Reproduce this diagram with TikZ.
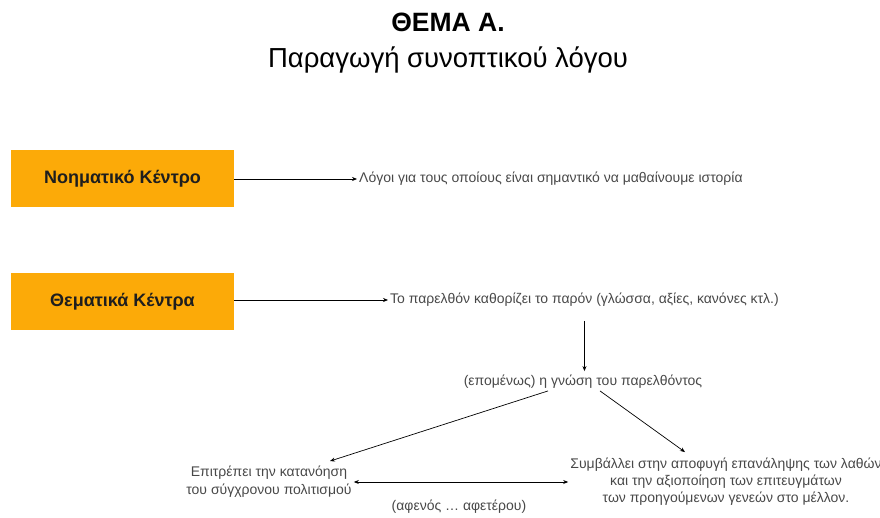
\documentclass[tikz,border=0pt]{standalone}
\usepackage{fontspec}
\setmainfont{Liberation Sans}
\usetikzlibrary{arrows.meta}
\definecolor{box_orange}{RGB}{252,170,8}
\definecolor{box_text}{RGB}{30,30,30}
\definecolor{txt_gray}{RGB}{72,72,72}
\tikzstyle{kb}=[rectangle,fill=box_orange,text=box_text,minimum width=223pt,minimum height=57pt,
  font=\fontsize{18}{21}\selectfont\bfseries]
\tikzstyle{gt}=[text=txt_gray,inner sep=2pt,align=center,
  font=\fontsize{14}{17}\selectfont]
\tikzstyle{ar}=[-{Stealth[length=5pt,width=4pt]},line width=0.7pt]
\tikzstyle{dar}=[{Stealth[length=5pt,width=4pt]}-{Stealth[length=5pt,width=4pt]},line width=0.7pt]

\begin{document}
\begin{tikzpicture}[x=1pt,y=-1pt]
    \useasboundingbox (0,0) rectangle (880,518);
    \node (title) at (448,22) {\fontsize{26.5}{30}\selectfont\bfseries ΘΕΜΑ Α.};
    \node (subtitle) at (448,60) {\fontsize{27.5}{32}\selectfont Παραγωγή συνοπτικού λόγου};
    \node [style=kb] (nk) at (122.5,178.5) {Νοηματικό Κέντρο};
    \node [style=gt,anchor=west] (why) at (357,179) {Λόγοι για τους οποίους είναι σημαντικό να μαθαίνουμε ιστορία};
    \node [style=kb] (tk) at (122.5,301.5) {Θεματικά Κέντρα};
    \node [style=gt,anchor=west] (past) at (388,300) {Το παρελθόν καθορίζει το παρόν (γλώσσα, αξίες, κανόνες κτλ.)};
    \node [style=gt] (know) at (583,382) {(επομένως) η γνώση του παρελθόντος};
    \node [style=gt,font=\fontsize{14}{18}\selectfont] (civ) at (269,482) {Επιτρέπει την κατανόηση\\του σύγχρονου πολιτισμού};
    \node [style=gt] (avoid) at (726,482) {Συμβάλλει στην αποφυγή επανάληψης των λαθών\\και την αξιοποίηση των επιτευγμάτων\\των προηγούμενων γενεών στο μέλλον.};
    \node [style=gt] (both) at (459,507) {(αφενός … αφετέρου)};
    \draw [style=ar] (nk.east |- why.west) to (why.west);
    \draw [style=ar] (tk.east |- past.west) to (past.west);
    \draw [style=ar] ([yshift=-12pt]past.south) to ([yshift=2pt]past.south |- know.north);
    \draw [style=ar] ([xshift=-35pt]know.south) to ([xshift=61pt,yshift=3pt]civ.north);
    \draw [style=ar] ([xshift=17pt]know.south) to ([xshift=-41pt,yshift=4pt]avoid.north);
    \draw [style=dar] (civ.east) to (avoid.west);
  \end{tikzpicture}
\end{document}
